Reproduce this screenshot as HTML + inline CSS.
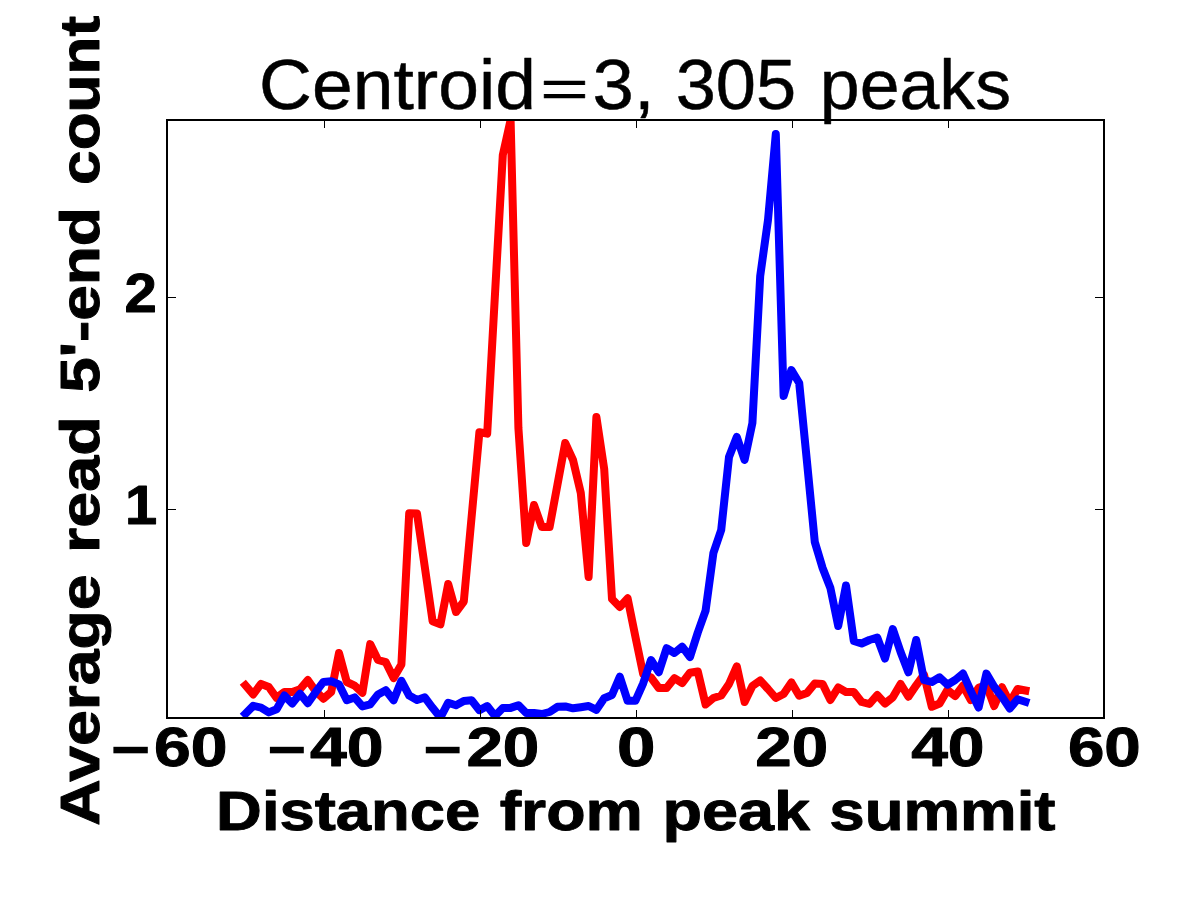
<!DOCTYPE html><html><head><meta charset="utf-8"><style>html,body{margin:0;padding:0;background:#fff;}svg{display:block;}text{font-family:"Liberation Sans",sans-serif;font-size:100px;fill:#000;stroke:#000;stroke-linejoin:round;}</style></head><body><svg width="1200" height="900" viewBox="0 0 1200 900">
<rect width="1200" height="900" fill="#fff"/>
<defs><clipPath id="ax"><rect x="167" y="120" width="937" height="598"/></clipPath></defs>
<g clip-path="url(#ax)" fill="none" stroke-width="8" stroke-linejoin="round" stroke-linecap="square">
<polyline stroke="#ff0000" points="245.4,685.3 253.2,694.4 261.0,683.9 268.8,687.0 276.6,697.8 284.4,692.0 292.2,692.0 300.0,689.3 307.8,680.0 315.6,691.1 323.4,698.7 331.2,692.0 339.0,653.0 346.8,682.0 354.6,685.6 362.4,692.8 370.2,644.1 378.0,660.0 385.8,662.2 393.6,678.1 401.4,664.4 409.2,513.3 417.0,513.5 424.8,567.0 432.6,621.3 440.4,624.4 448.2,584.0 456.0,612.0 463.8,601.5 471.6,517.0 479.4,432.2 487.2,433.6 495.0,294.0 502.8,155.0 510.6,120.0 518.4,428.0 526.2,543.0 534.0,505.0 541.8,527.0 549.6,527.0 557.4,485.0 565.2,443.0 573.0,460.0 580.8,493.0 588.6,577.0 596.4,417.0 604.2,469.0 612.0,599.0 619.8,607.0 627.6,598.3 635.4,636.7 643.2,674.2 651.0,677.5 658.8,688.0 666.6,688.0 674.4,678.2 682.2,683.0 690.0,672.7 697.8,671.5 705.6,704.5 713.4,698.0 721.2,695.5 729.0,684.0 736.8,666.3 744.6,702.0 752.4,686.0 760.2,680.5 768.0,689.0 775.8,698.0 783.6,694.0 791.4,682.4 799.2,695.7 807.0,693.0 814.8,683.4 822.6,684.0 830.4,700.0 838.2,687.5 846.0,692.0 853.8,692.0 861.6,702.0 869.4,704.0 877.2,695.0 885.0,703.5 892.8,697.3 900.6,684.0 908.4,696.7 916.2,685.3 924.0,674.7 931.8,706.8 939.6,703.5 947.4,690.0 955.2,696.1 963.0,685.6 970.8,700.0 978.6,687.8 986.4,685.0 994.2,706.0 1002.0,687.2 1009.8,702.5 1017.6,689.0 1025.4,690.5"/>
<polyline stroke="#0000ff" points="245.4,713.8 253.2,705.8 261.0,707.6 268.8,712.4 276.6,709.3 284.4,695.5 292.2,703.6 300.0,693.7 307.8,703.2 315.6,692.2 323.4,681.9 331.2,681.3 339.0,684.4 346.8,700.2 354.6,697.4 362.4,706.4 370.2,704.4 378.0,694.4 385.8,690.2 393.6,700.3 401.4,680.8 409.2,695.6 417.0,700.0 424.8,697.4 432.6,707.8 440.4,717.5 448.2,702.7 456.0,705.2 463.8,700.9 471.6,700.2 479.4,710.2 487.2,706.0 495.0,716.0 502.8,707.9 510.6,707.9 518.4,705.2 526.2,713.0 534.0,713.0 541.8,714.0 549.6,712.0 557.4,706.8 565.2,706.4 573.0,708.3 580.8,707.2 588.6,706.0 596.4,709.9 604.2,698.2 612.0,695.0 619.8,676.7 627.6,700.8 635.4,700.8 643.2,683.3 651.0,660.0 658.8,672.2 666.6,648.2 674.4,653.0 682.2,646.7 690.0,657.0 697.8,632.5 705.6,610.6 713.4,553.0 721.2,530.0 729.0,457.0 736.8,437.0 744.6,460.0 752.4,423.0 760.2,276.0 768.0,220.0 775.8,134.0 783.6,396.0 791.4,370.0 799.2,383.0 807.0,462.0 814.8,542.0 822.6,568.0 830.4,588.0 838.2,626.0 846.0,585.5 853.8,641.0 861.6,643.5 869.4,640.0 877.2,637.5 885.0,658.5 892.8,629.0 900.6,652.0 908.4,672.3 916.2,640.0 924.0,680.0 931.8,682.0 939.6,677.3 947.4,684.7 955.2,680.0 963.0,673.6 970.8,691.1 978.6,707.5 986.4,673.6 994.2,686.7 1002.0,696.7 1009.8,708.5 1017.6,699.2 1025.4,701.8"/>
</g>
<rect x="167" y="120" width="937" height="598" fill="none" stroke="#000" stroke-width="2"/>
<path d="M324.5,717V710M324.5,121V128M480.5,717V710M480.5,121V128M636.5,717V710M636.5,121V128M792.5,717V710M792.5,121V128M948.5,717V710M948.5,121V128M168,297.5H176M1103,297.5H1095M168,509.5H176M1103,509.5H1095" stroke="#000" stroke-width="1" fill="none"/>
<rect x="113.4" y="746.8" width="34.4" height="6.5"/><rect x="269.9" y="746.8" width="33.9" height="6.5"/><rect x="425.8" y="746.8" width="33.8" height="6.5"/>
<text transform="translate(259.110,109.105) scale(0.73234,0.69774)" font-weight="normal" stroke-width="0.7">Centroid</text>
<text transform="translate(539.915,107.243) scale(0.83927,0.54423)" font-weight="normal" stroke-width="0.7">=</text>
<text transform="translate(592.576,109.096) scale(0.74287,0.69777)" font-weight="normal" stroke-width="0.7">3,</text>
<text transform="translate(675.641,109.076) scale(0.72211,0.69745)" font-weight="normal" stroke-width="0.7">305</text>
<text transform="translate(819.816,109.086) scale(0.71634,0.69748)" font-weight="normal" stroke-width="0.7">peaks</text>
<text transform="translate(216.115,830.231) scale(0.63398,0.55906)" font-weight="bold" stroke-width="1.7">Distance</text>
<text transform="translate(499.642,830.231) scale(0.64400,0.55906)" font-weight="bold" stroke-width="1.7">from</text>
<text transform="translate(662.596,830.231) scale(0.64704,0.55906)" font-weight="bold" stroke-width="1.7">peak</text>
<text transform="translate(829.290,830.231) scale(0.63628,0.55906)" font-weight="bold" stroke-width="1.7">summit</text>
<text transform="translate(154.074,766.483) scale(0.66129,0.56208)" font-weight="bold" stroke-width="1.7">60</text>
<text transform="translate(309.991,766.483) scale(0.66212,0.56208)" font-weight="bold" stroke-width="1.7">40</text>
<text transform="translate(466.379,766.483) scale(0.65588,0.56208)" font-weight="bold" stroke-width="1.7">20</text>
<text transform="translate(616.880,766.483) scale(0.69104,0.56208)" font-weight="bold" stroke-width="1.7">0</text>
<text transform="translate(755.285,766.483) scale(0.65511,0.56208)" font-weight="bold" stroke-width="1.7">20</text>
<text transform="translate(911.140,766.483) scale(0.66008,0.56208)" font-weight="bold" stroke-width="1.7">40</text>
<text transform="translate(1067.880,766.480) scale(0.65526,0.56208)" font-weight="bold" stroke-width="1.7">60</text>
<text transform="translate(124.476,311.621) scale(0.58147,0.54610)" font-weight="bold" stroke-width="1.7">2</text>
<text transform="translate(124.919,523.602) scale(0.57972,0.55909)" font-weight="bold" stroke-width="1.7">1</text>
<text transform="translate(98.723,825.862) rotate(-90) scale(0.64343,0.56266)" font-weight="bold" stroke-width="1.7">Average</text>
<text transform="translate(98.723,553.058) rotate(-90) scale(0.64779,0.56266)" font-weight="bold" stroke-width="1.7">read</text>
<text transform="translate(98.723,392.818) rotate(-90) scale(0.63955,0.56266)" font-weight="bold" stroke-width="1.7">5'-end</text>
<text transform="translate(98.723,184.911) rotate(-90) scale(0.62123,0.56266)" font-weight="bold" stroke-width="1.7">count</text>
</svg></body></html>
